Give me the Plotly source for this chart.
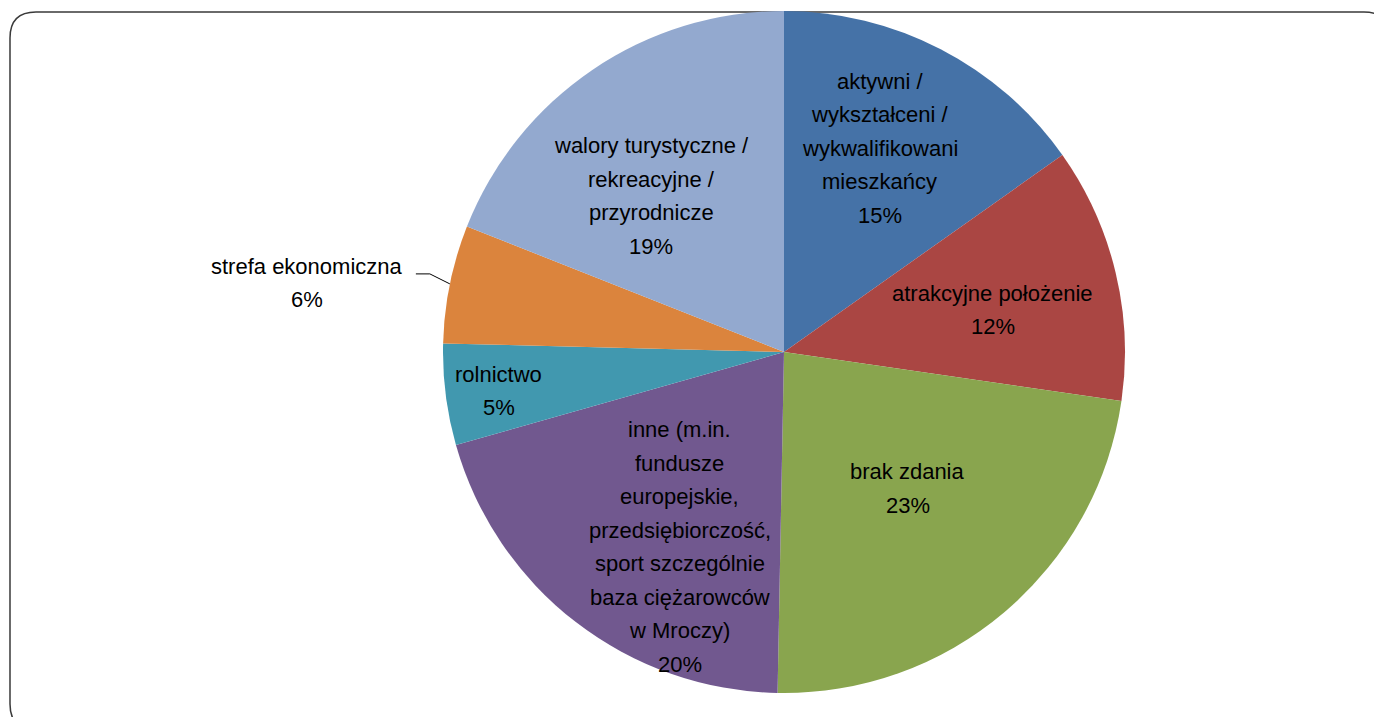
import math
import plotly.graph_objects as go

# ---- data ----
categories = [
    "aktywni /<br>wykształceni /<br>wykwalifikowani<br>mieszkańcy",
    "atrakcyjne położenie",
    "brak zdania",
    "inne (m.in.<br>fundusze<br>europejskie,<br>przedsiębiorczość,<br>sport szczególnie<br>baza ciężarowców<br>w Mroczy)",
    "rolnictwo",
    "strefa ekonomiczna",
    "walory turystyczne /<br>rekreacyjne /<br>przyrodnicze",
]
values = [15.2, 12.1, 23.0, 20.3, 4.8, 5.6, 19.0]
colors = ["#4572A7", "#AA4643", "#89A54E", "#71588F", "#4198AF", "#DB843D", "#93A9CF"]

# label placement (fraction of radius, angular shift in degrees)
label_r = [0.66, 0.625, 0.54, 0.648, 0.844, 1.413, 0.60]
label_shift = [-2.2, 2.1, -1.9, -9.5, -0.6, -3.3, -6.2]

# ---- layout geometry (screen px) ----
OFF = 8            # browser body margin
W, H = 1382 - 2 * OFF, 725 - 2 * OFF
CX, CY, R = 784, 352, 341
LINE_H = 33.5
FONT = "Liberation Sans, Arial, sans-serif"


def px(sx, sy):
    return (sx - OFF) / W, 1 - (sy - OFF) / H


fig = go.Figure()
fig.add_trace(go.Pie(
    labels=[c.replace("<br>", " ") for c in categories],
    values=values,
    sort=False,
    direction="clockwise",
    rotation=0,
    marker=dict(colors=colors, line=dict(width=0)),
    textinfo="none",
    hoverinfo="label+percent",
    showlegend=False,
    domain=dict(
        x=[(CX - R - OFF) / W, (CX + R - OFF) / W],
        y=[1 - (CY + R - OFF) / H, 1 - (CY - R - OFF) / H],
    ),
))

total = sum(values)
annotations = []
shapes = []
cum = 0.0
for i, (lab, v) in enumerate(zip(categories, values)):
    mid = (cum + v / 2) / total * 360.0
    cum += v
    ang = math.radians(mid + label_shift[i])
    lx = CX + R * label_r[i] * math.sin(ang)
    ly = CY - R * label_r[i] * math.cos(ang)
    lines = lab.split("<br>") + ["%d%%" % round(v / total * 100)]
    n = len(lines)
    for k, t in enumerate(lines):
        yy = ly + (k - (n - 1) / 2) * LINE_H
        x, y = px(lx, yy)
        annotations.append(dict(
            x=x, y=y, xref="paper", yref="paper", text=t, showarrow=False,
            xanchor="center", yanchor="middle",
            font=dict(family=FONT, size=22, color="#000000"),
        ))
    if label_r[i] > 1:
        # leader line from slice edge to label
        ma = math.radians(mid)
        ex, ey = CX + R * math.sin(ma), CY - R * math.cos(ma)
        bx, by = ex - 20, ey - 10
        tx, ty = bx - 14, by
        p = [px(ex, ey), px(bx, by), px(tx, ty)]
        shapes.append(dict(
            type="path", xref="paper", yref="paper",
            path="M %f %f L %f %f L %f %f" % (p[0][0], p[0][1], p[1][0], p[1][1], p[2][0], p[2][1]),
            line=dict(color="#000000", width=1),
        ))

# rounded frame
fx0, fy0, fx1, fy1, rr = 10, 12, 1390, 730, 26
def P(sx, sy):
    a, b = px(sx, sy)
    return "%f %f" % (a, b)
frame = (
    "M " + P(fx0 + rr, fy0) + " L " + P(fx1 - rr, fy0) +
    " Q " + P(fx1, fy0) + " " + P(fx1, fy0 + rr) +
    " L " + P(fx1, fy1 - rr) + " Q " + P(fx1, fy1) + " " + P(fx1 - rr, fy1) +
    " L " + P(fx0 + rr, fy1) + " Q " + P(fx0, fy1) + " " + P(fx0, fy1 - rr) +
    " L " + P(fx0, fy0 + rr) + " Q " + P(fx0, fy0) + " " + P(fx0 + rr, fy0) + " Z"
)
shapes.insert(0, dict(type="path", xref="paper", yref="paper", path=frame,
                      line=dict(color="#3a3a3a", width=1.5), layer="below"))

fig.update_layout(
    width=W, height=H,
    margin=dict(l=0, r=0, t=0, b=0),
    paper_bgcolor="white", plot_bgcolor="white",
    annotations=annotations,
    shapes=shapes,
)

fig.write_html("out.html")
